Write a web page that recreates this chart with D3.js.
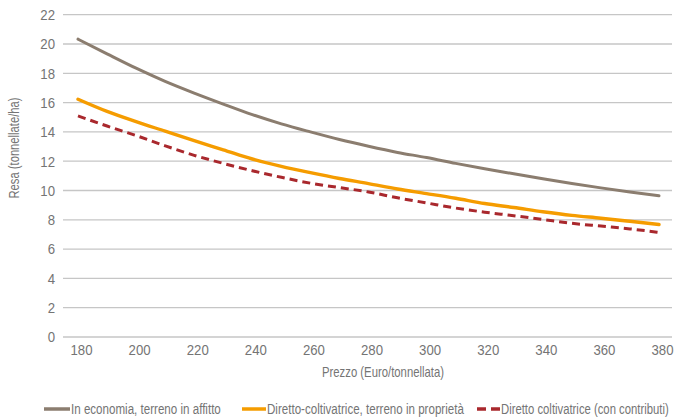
<!DOCTYPE html>
<html>
<head>
<meta charset="utf-8">
<style>
    body { margin: 0; background: #fff; }
    svg text { font-family: "Liberation Sans", Arial, sans-serif; fill: #747474; }
</style>
</head>
<body>
<div id="chart"></div>
<script src="https://cdn.jsdelivr.net/npm/d3@7"></script>
<script>
    var w = 676;
    var h = 417;

    // prezzo (euro/tonnellata)
    var prezzi = [180, 190, 200, 210, 220, 230, 240, 250, 260, 270, 280, 290, 300, 310, 320, 330, 340, 350, 360, 370, 380];
    var xTicks = [180, 200, 220, 240, 260, 280, 300, 320, 340, 360, 380];
    var yTicks = [0, 2, 4, 6, 8, 10, 12, 14, 16, 18, 20, 22];

    // resa (tonnellate/ha)
    var affitto = [20.33, 19.33, 18.35, 17.45, 16.65, 15.9, 15.18, 14.55, 14.0, 13.48, 13.02, 12.6, 12.25, 11.85, 11.48, 11.14, 10.8, 10.48, 10.18, 9.9, 9.64];
    var proprieta = [16.23, 15.4, 14.7, 14.05, 13.4, 12.78, 12.15, 11.65, 11.22, 10.82, 10.47, 10.1, 9.79, 9.47, 9.11, 8.84, 8.55, 8.3, 8.11, 7.9, 7.68];
    var contributi = [15.09, 14.4, 13.75, 13.05, 12.4, 11.85, 11.35, 10.9, 10.5, 10.2, 9.9, 9.5, 9.15, 8.8, 8.52, 8.28, 8.02, 7.76, 7.57, 7.38, 7.14];

    var serie = [
        {name: "In economia, terreno in affitto", values: affitto, color: "#8b7d6f", width: 3, dash: null},
        {name: "Diretto-coltivatrice, terreno in proprietà", values: proprieta, color: "#f59c00", width: 3.4, dash: null},
        {name: "Diretto coltivatrice (con contributi)", values: contributi, color: "#a9282d", width: 3, dash: "8,5"}
    ];

    var xScale = d3.scaleLinear().domain([180, 380]).range([78, 659]);
    var yScale = d3.scaleLinear().domain([0, 22]).range([337, 14.7]);
    var gridLeft = 63, gridRight = 672;

    // the reference uses a condensed font: squeeze Liberation Sans horizontally
    function squeeze(sel, factor) {
        sel.each(function () {
            var len = this.getComputedTextLength();
            d3.select(this)
                .attr("textLength", len * factor)
                .attr("lengthAdjust", "spacingAndGlyphs");
        });
    }

    var svg = d3.select("#chart").append("svg")
        .attr("width", w)
        .attr("height", h);

    // griglia orizzontale
    svg.append("g")
        .selectAll("line")
        .data(yTicks)
        .enter()
        .append("line")
        .attr("x1", gridLeft)
        .attr("x2", gridRight)
        .attr("y1", function (d) { return yScale(d); })
        .attr("y2", function (d) { return yScale(d); })
        .attr("stroke", "#c6c6c6")
        .attr("stroke-width", 1.3);

    // etichette asse y
    var yAxis = d3.axisLeft(yScale).tickValues(yTicks).tickSize(0).tickPadding(0);
    var gy = svg.append("g")
        .attr("transform", "translate(55,0)")
        .call(yAxis);
    gy.select(".domain").remove();
    gy.selectAll("text")
        .attr("font-size", 15)
        .attr("fill", "#747474")
        .style("font-family", "'Liberation Sans', Arial, sans-serif")
        .call(squeeze, 0.88);

    // etichette asse x
    var xAxis = d3.axisBottom(xScale).tickValues(xTicks).tickSize(0).tickPadding(0);
    var gx = svg.append("g")
        .attr("transform", "translate(3,344)")
        .call(xAxis);
    gx.select(".domain").remove();
    gx.selectAll("text")
        .attr("font-size", 15)
        .attr("fill", "#747474")
        .style("font-family", "'Liberation Sans', Arial, sans-serif")
        .call(squeeze, 0.88);

    // titoli assi
    svg.append("text")
        .attr("x", 383)
        .attr("y", 377)
        .attr("text-anchor", "middle")
        .attr("font-size", 15)
        .attr("textLength", 122)
        .attr("lengthAdjust", "spacingAndGlyphs")
        .text("Prezzo (Euro/tonnellata)");

    svg.append("text")
        .attr("transform", "translate(19,148) rotate(-90)")
        .attr("text-anchor", "middle")
        .attr("font-size", 15)
        .attr("textLength", 101)
        .attr("lengthAdjust", "spacingAndGlyphs")
        .text("Resa (tonnellate/ha)");

    var line = d3.line()
        .x(function (d, i) { return xScale(prezzi[i]); })
        .y(function (d) { return yScale(d); })
        .curve(d3.curveMonotoneX);

    svg.selectAll(".serie")
        .data(serie)
        .enter()
        .append("path")
        .attr("class", "serie")
        .attr("d", function (d) { return line(d.values); })
        .attr("fill", "none")
        .attr("stroke", function (d) { return d.color; })
        .attr("stroke-width", function (d) { return d.width; })
        .attr("stroke-dasharray", function (d) { return d.dash; })
        .attr("stroke-linecap", function (d) { return d.dash ? "butt" : "round"; });

    // legenda
    var legendX = [44, 242, 477];
    var swatchW = [26, 24, 23];
    var legendTextW = [150, 197, 168];
    var legend = svg.selectAll(".legend")
        .data(serie)
        .enter()
        .append("g")
        .attr("class", "legend")
        .attr("transform", function (d, i) { return "translate(" + legendX[i] + ",409)"; });

    legend.append("line")
        .attr("x1", 0)
        .attr("x2", function (d, i) { return swatchW[i]; })
        .attr("y1", 0)
        .attr("y2", 0)
        .attr("stroke", function (d) { return d.color; })
        .attr("stroke-width", 3.5)
        .attr("stroke-dasharray", function (d) { return d.dash ? "9,5" : null; });

    // testo compresso con una scala orizzontale, così il riquadro resta dentro la pagina
    legend.append("text")
        .attr("font-size", 15)
        .text(function (d) { return d.name; })
        .each(function (d, i) {
            var sx = legendTextW[i] / this.getComputedTextLength();
            d3.select(this).attr("transform", "translate(" + (swatchW[i] + 1) + ",5) scale(" + sx + ",1)");
        });
</script>
</body>
</html>
